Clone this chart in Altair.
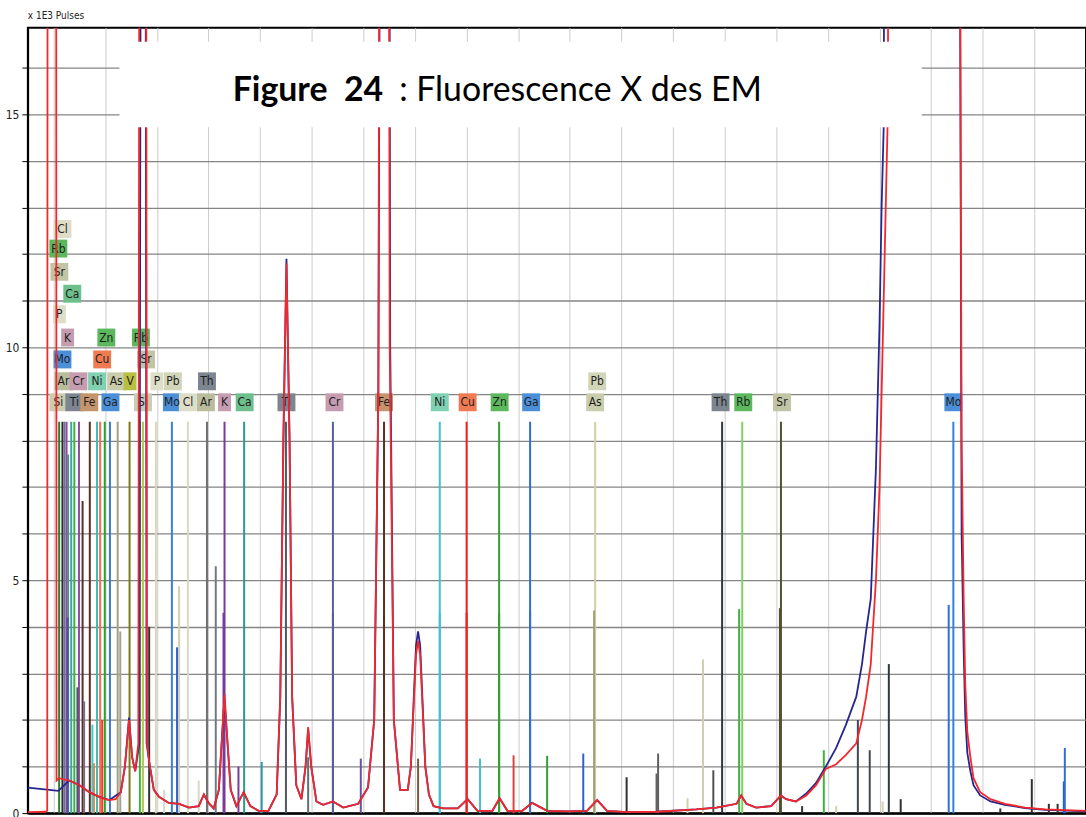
import altair as alt
import pandas as pd

# ---- spectra (energy in keV, counts in thousands of pulses) ----
red_kev = [-0.50, -0.16, -0.125, -0.115, 0.045, 0.055, 0.10, 0.30, 0.50, 0.69, 0.88, 1.00, 1.08, 1.20,
           1.30, 1.38, 1.46, 1.52, 1.58, 1.64, 1.67, 1.78, 1.81, 1.85, 1.94, 2.04, 2.23, 2.43, 2.62,
           2.81, 2.91, 3.00, 3.10, 3.20, 3.27, 3.31, 3.35, 3.43, 3.54, 3.68, 3.81, 3.97, 4.16, 4.32,
           4.39, 4.45, 4.51, 4.57, 4.62, 4.70, 4.80, 4.88, 4.93, 4.99, 5.09, 5.22, 5.41, 5.61, 5.90,
           6.09, 6.21, 6.29, 6.33, 6.48, 6.51, 6.59, 6.71, 6.86, 6.92, 6.97, 7.02, 7.06, 7.10, 7.15,
           7.20, 7.27, 7.36, 7.54, 7.83, 8.02, 8.21, 8.50, 8.64, 8.79, 9.08, 9.27, 9.56, 9.95, 10.33,
           10.53, 10.72, 11.11, 11.68, 12.45, 12.84, 13.23, 13.32, 13.42, 13.61, 13.90, 14.09, 14.19,
           14.38, 14.58, 14.77, 14.96, 15.16, 15.35, 15.55, 15.66, 15.74, 15.83, 15.93, 16.00, 16.08,
           16.16, 16.20, 17.53, 17.59, 17.63, 17.66, 17.70, 17.76, 17.82, 17.95, 18.15, 18.43, 18.82,
           19.21, 20.00]
red_cts = [0.02, 0.03, 0.05, 30, 30, 0.7, 0.75, 0.7, 0.6, 0.45, 0.35, 0.3, 0.28, 0.3,
           0.45, 1.0, 2.0, 1.2, 0.9, 1.5, 30, 30, 1.5, 1.1, 0.5, 0.35, 0.22, 0.2, 0.12,
           0.15, 0.4, 0.22, 0.1, 0.5, 1.8, 2.55, 1.8, 0.5, 0.15, 0.45, 0.15, 0.05, 0.05, 0.4,
           2.5, 8.0, 11.8, 8.0, 2.5, 0.6, 0.3, 1.0, 1.85, 1.0, 0.25, 0.18, 0.25, 0.12, 0.2,
           0.55, 2.0, 9.0, 30, 30, 10, 2.0, 0.5, 0.5, 1.0, 2.2, 3.4, 3.7, 3.4, 2.2,
           1.0, 0.4, 0.15, 0.1, 0.1, 0.3, 0.05, 0.05, 0.32, 0.05, 0.05, 0.22, 0.05, 0.04, 0.05,
           0.28, 0.05, 0.02, 0.03, 0.08, 0.12, 0.2, 0.38, 0.2, 0.12, 0.15, 0.38, 0.3,
           0.25, 0.38, 0.6, 0.95, 1.05, 1.25, 1.5, 2.0, 2.5, 3.2, 5.0, 7.0, 11.0,
           15.0, 30, 30, 8.0, 4.6, 2.8, 1.75, 1.2, 0.75, 0.45, 0.3, 0.2, 0.12,
           0.08, 0.05]

blue_kev = [-0.50, -0.27, 0.09, 0.30, 0.50, 0.69, 0.88, 1.08, 1.30, 1.38, 1.46, 1.52, 1.58, 1.66,
            1.70, 1.77, 1.80, 1.85, 1.94, 2.04, 2.23, 2.43, 2.62, 2.81, 2.91, 3.00, 3.10, 3.20,
            3.27, 3.31, 3.35, 3.43, 3.54, 3.68, 3.81, 3.97, 4.16, 4.32, 4.39, 4.45, 4.51, 4.57,
            4.62, 4.70, 4.80, 4.88, 4.93, 4.99, 5.09, 5.22, 5.41, 5.61, 5.90, 6.09, 6.21, 6.29,
            6.35, 6.49, 6.52, 6.59, 6.71, 6.86, 6.92, 6.97, 7.02, 7.06, 7.10, 7.15, 7.20, 7.27,
            7.36, 7.54, 7.83, 8.02, 8.21, 8.50, 8.64, 8.79, 9.08, 9.27, 9.56, 9.95, 10.33, 10.53,
            10.72, 11.11, 11.68, 12.45, 12.84, 13.23, 13.32, 13.42, 13.61, 13.90, 14.09, 14.19,
            14.38, 14.58, 14.77, 14.96, 15.16, 15.35, 15.55, 15.66, 15.74, 15.83, 15.93, 16.00,
            16.04, 16.08, 16.12, 17.53, 17.59, 17.63, 17.66, 17.70, 17.76, 17.82, 17.95, 18.15,
            18.43, 18.82, 19.21, 20.00]
blue_cts = [0.55, 0.52, 0.48, 0.7, 0.6, 0.45, 0.35, 0.28, 0.45, 1.0, 2.05, 1.2, 0.9, 1.5,
            30, 30, 1.5, 1.1, 0.5, 0.35, 0.22, 0.2, 0.12, 0.15, 0.4, 0.22, 0.1, 0.5,
            1.8, 2.45, 1.8, 0.5, 0.15, 0.45, 0.15, 0.05, 0.05, 0.4, 2.5, 8.0, 11.9, 8.0,
            2.5, 0.6, 0.3, 1.0, 1.8, 1.0, 0.25, 0.18, 0.25, 0.12, 0.2, 0.55, 2.0, 9.0,
            30, 30, 10, 2.0, 0.5, 0.5, 1.0, 2.3, 3.6, 3.9, 3.6, 2.3, 1.0, 0.4,
            0.15, 0.1, 0.1, 0.3, 0.05, 0.05, 0.32, 0.05, 0.05, 0.22, 0.05, 0.04, 0.05, 0.28,
            0.05, 0.02, 0.03, 0.08, 0.12, 0.2, 0.38, 0.2, 0.12, 0.15, 0.38, 0.3,
            0.25, 0.42, 0.65, 1.0, 1.4, 1.9, 2.5, 3.2, 3.9, 4.6, 7.4, 10.5,
            13.0, 14.7, 30, 30, 6.0, 3.5, 2.1, 1.3, 0.9, 0.6, 0.38, 0.25,
            0.18, 0.11, 0.07, 0.04]

# ---- element line markers: energy (keV), height, colour ----
line_kev = [0.106, 0.17, 0.21, 0.25, 0.34, 0.40, 0.49, 0.70, 0.84, 0.90, 0.99, 1.09, 1.24, 1.47,
            1.67, 1.73, 0.28, 0.56, 0.27, 0.46, 0.59, 0.94, 0.78, 1.29, 0.75, 1.85, 1.98, 2.29,
            2.39, 2.43, 2.60, 2.97, 3.14, 3.31, 3.29, 3.58, 3.69, 4.03, 2.14, 2.81, 4.50, 4.93,
            5.41, 5.41, 5.95, 6.40, 6.40, 7.06, 7.48, 7.48, 8.00, 8.00, 8.26, 8.63, 8.63, 8.91,
            9.23, 9.23, 9.56, 10.26, 10.49, 10.47, 11.10, 11.71, 11.68, 12.28, 12.58, 12.78, 12.95,
            13.28, 13.34, 14.09, 14.07, 14.50, 14.92, 15.16, 15.58, 15.81, 16.06, 16.18, 16.41,
            17.34, 17.43, 18.34, 18.95, 19.28, 19.45, 19.57, 19.59]
line_height = [8.4, 8.4, 8.4, 8.4, 8.4, 8.4, 8.4, 8.4, 8.4, 8.4, 8.4, 8.4, 8.4, 8.4,
               8.4, 8.4, 7.7, 6.7, 4.2, 2.7, 2.4, 2.0, 1.07, 3.9, 1.9, 4.0, 8.4, 8.4,
               3.56, 4.87, 8.4, 8.4, 5.3, 8.4, 4.3, 1.0, 8.4, 1.1, 0.5, 0.7, 8.4, 1.2,
               8.4, 4.3, 1.17, 8.4, 4.3, 1.17, 8.4, 4.3, 8.4, 4.3, 1.17, 8.4, 4.3, 1.24,
               8.4, 4.35, 1.23, 1.28, 8.4, 4.35, 0.77, 1.28, 0.85, 0.32, 3.3, 0.92, 8.4,
               4.38, 8.4, 8.4, 4.4, 0.15, 1.35, 0.15, 2.0, 1.35, 0.25, 3.2, 0.3,
               4.47, 8.4, 0.1, 0.73, 0.2, 0.2, 0.68, 1.4]
line_color = ["#2e7d32", "#2c2c2c", "#6f6f9a", "#8a4fa0", "#3aa8a0", "#3cb043", "#8a4fa0",
              "#5a2e22", "#40b8b8", "#f07050", "#2ca02c", "#3a78d0", "#a0a080", "#7a7a18",
              "#3cb043", "#b8c850", "#5a8a8a", "#5a2e22", "#5050a0", "#555560", "#7a6a8a",
              "#e84030", "#f08030", "#a0a490", "#40c8d0", "#303030", "#d8d8b8", "#3a80d0",
              "#3060d0", "#d0d0b0", "#d8d8c0", "#707070", "#707880", "#7a3a9a", "#7a3a9a",
              "#7a3a9a", "#2a9a8a", "#2a9aaa", "#d8d8c8", "#d8d8c8", "#505860", "#607070",
              "#5060a0", "#5060a0", "#6a50a0", "#5a3020", "#5a3020", "#7a5a40", "#40c0d0",
              "#40c0d0", "#f02020", "#f02020", "#40c0d0", "#30a030", "#30a030", "#e04040",
              "#3070d0", "#3070d0", "#30a030", "#3060d0", "#d0d0a8", "#a0a070", "#303030",
              "#606060", "#606060", "#d0d0b0", "#d0d0b0", "#505050", "#303840", "#40b040",
              "#80d060", "#505030", "#505030", "#303030", "#40b040", "#d0d0b0", "#404850",
              "#404850", "#d0d0b0", "#303840", "#303030", "#3070d0", "#3080e0", "#303030",
              "#303030", "#303030", "#303030", "#2060d0", "#3070d0"]

# ---- element labels: text, energy (keV), height of the tag, tag colour ----
label_text = ["Cl", "Rb", "Sr", "Ca", "P", "K", "Zn", "Rb", "Mo", "Cu", "Sr",
              "Ar", "Cr", "Ni", "As", "V", "P", "Pb", "Th", "Pb",
              "Si", "Ti", "Fe", "Ga", "Si", "Mo", "Cl", "Ar", "K", "Ca", "Ti", "Cr", "Fe",
              "Ni", "Cu", "Zn", "Ga", "As", "Th", "Rb", "Sr", "Mo"]
label_kev = [0.17, 0.09, 0.11, 0.36, 0.11, 0.27, 1.02, 1.69, 0.17, 0.94, 1.79,
             0.19, 0.48, 0.84, 1.21, 1.48, 2.00, 2.31, 2.97, 10.53,
             0.09, 0.40, 0.69, 1.10, 1.73, 2.29, 2.60, 2.95, 3.31, 3.70, 4.51, 5.44, 6.40,
             7.48, 8.02, 8.64, 9.25, 10.49, 12.92, 13.36, 14.11, 17.43]
label_level = [12.54, 12.12, 11.62, 11.15, 10.71, 10.21, 10.21, 10.21, 9.74, 9.74, 9.74,
               9.27, 9.27, 9.27, 9.27, 9.27, 9.27, 9.27, 9.27, 9.27,
               8.82, 8.82, 8.82, 8.82, 8.82, 8.82, 8.82, 8.82, 8.82, 8.82, 8.82, 8.82, 8.82,
               8.82, 8.82, 8.82, 8.82, 8.82, 8.82, 8.82, 8.82, 8.82]
tag_color = {"Si": "#c9ccae", "Ti": "#7d8590", "Fe": "#c4946c", "Ga": "#4a8fd8", "Mo": "#4a8fd8",
             "Cl": "#dedec8", "Ar": "#b9bd9e", "K": "#c69cb0", "Ca": "#6dbf8c", "Cr": "#c69cb0",
             "Ni": "#80d0b2", "Cu": "#f07a52", "Zn": "#5cb85c", "As": "#c9cdab", "Pb": "#d2d6b8",
             "Th": "#7d8590", "Rb": "#5cb85c", "Sr": "#c1c5a6", "P": "#dedec8", "V": "#b8c042"}

X_DOMAIN = [-0.5, 20.0]
Y_DOMAIN = [0, 16.86]
NARROW = "Liberation Sans Narrow, DejaVu Sans Condensed, sans-serif"

x_scale = alt.Scale(domain=X_DOMAIN, nice=False, zero=False)
y_scale = alt.Scale(domain=Y_DOMAIN, nice=False, zero=False)

lines_df = pd.DataFrame({"kev": line_kev, "h": line_height, "col": line_color})
lines_df["base"] = 0.0
red_df = pd.DataFrame({"kev": red_kev, "cts": red_cts})
blue_df = pd.DataFrame({"kev": blue_kev, "cts": blue_cts})
labels_df = pd.DataFrame({"t": label_text, "kev": label_kev, "lvl": label_level})
labels_df["fill"] = [tag_color[t] for t in label_text]

base_axes = alt.Chart(lines_df).mark_rule(opacity=0).encode(
    x=alt.X("kev:Q", scale=x_scale,
            axis=alt.Axis(values=list(range(0, 20)), grid=True, gridColor="#cccccc",
                          gridWidth=1, labels=False, ticks=False, domain=True,
                          domainColor="black", domainWidth=2, title=None)),
    y=alt.Y("base:Q", scale=y_scale,
            axis=alt.Axis(values=list(range(0, 17)), grid=True, gridColor="#858585",
                          gridWidth=1.3, tickSize=6, tickColor="black", tickWidth=1,
                          domainColor="black", domainWidth=1.5,
                          labelExpr="datum.value % 5 == 0 ? datum.label : ''",
                          labelFont=NARROW, labelFontSize=12, labelColor="#222",
                          labelPadding=3, title=None)),
)

markers = alt.Chart(lines_df).mark_rule(strokeWidth=2).encode(
    x=alt.X("kev:Q", scale=x_scale),
    y=alt.Y("base:Q", scale=y_scale),
    y2="h:Q",
    color=alt.Color("col:N", scale=None),
)

tags_two = alt.Chart(labels_df).transform_filter("length(datum.t) > 1").mark_rect(
    width=18, height=18).encode(
    x=alt.X("kev:Q", scale=x_scale), y=alt.Y("lvl:Q", scale=y_scale),
    color=alt.Color("fill:N", scale=None))
tags_one = alt.Chart(labels_df).transform_filter("length(datum.t) == 1").mark_rect(
    width=13, height=18).encode(
    x=alt.X("kev:Q", scale=x_scale), y=alt.Y("lvl:Q", scale=y_scale),
    color=alt.Color("fill:N", scale=None))
tag_text = alt.Chart(labels_df).mark_text(
    font=NARROW, fontSize=12, color="#1e1e1e", baseline="middle", align="center").encode(
    x=alt.X("kev:Q", scale=x_scale), y=alt.Y("lvl:Q", scale=y_scale), text="t:N")

blue_line = alt.Chart(blue_df).mark_line(color="#26268e", strokeWidth=1.8, clip=True).encode(
    x=alt.X("kev:Q", scale=x_scale), y=alt.Y("cts:Q", scale=y_scale), order="kev:Q")
red_line = alt.Chart(red_df).mark_line(color="#f2282c", strokeWidth=1.8, clip=True).encode(
    x=alt.X("kev:Q", scale=x_scale), y=alt.Y("cts:Q", scale=y_scale), order="kev:Q")

one = pd.DataFrame({"k": [0]})
title_box = alt.Chart(one).mark_rect(color="white").encode(
    x=alt.value(92), x2=alt.value(898), y=alt.value(14), y2=alt.value(100))
title_bold = alt.Chart(one).mark_text(
    text="Figure\u00a0\u00a024", font="Lato", fontSize=34, fontWeight="bold", color="black",
    align="right", baseline="alphabetic").encode(x=alt.value(357), y=alt.value(74))
title_rest = alt.Chart(one).mark_text(
    text=": Fluorescence X des EM", font="Lato", fontSize=34, color="black",
    align="left", baseline="alphabetic").encode(x=alt.value(373), y=alt.value(74))
unit_text = alt.Chart(one).mark_text(
    text="x 1E3 Pulses", font=NARROW, fontSize=10, color="#222",
    align="left", baseline="middle").encode(x=alt.value(0), y=alt.value(-12))

chart = alt.layer(
    base_axes, markers, tags_two, tags_one, tag_text, blue_line, red_line,
    title_box, title_bold, title_rest, unit_text
).properties(
    width=1063, height=789,
    autosize=alt.AutoSizeParams(type="none"),
    padding={"left": 28, "top": 26, "right": 0, "bottom": 2},
    background="white",
).configure_view(stroke="black", strokeWidth=2)

chart.save("out.html", embed_options={"renderer": "svg", "actions": False})
